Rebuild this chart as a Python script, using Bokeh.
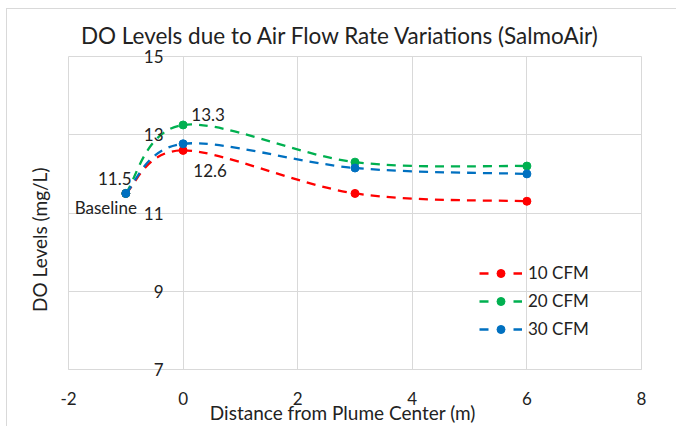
from bokeh.plotting import figure
from bokeh.models import (ColumnDataSource, FixedTicker, LabelSet, Legend,
                          LegendItem, Range1d, InlineStyleSheet)
from bokeh.core.properties import value
from bokeh.embed import file_html
from bokeh.resources import INLINE

# ---- data ----
x_vals = [-1, 0, 3, 6]
series_names = ["10 CFM", "20 CFM", "30 CFM"]
cfm10 = [11.5, 12.6, 11.5, 11.3]
cfm20 = [11.5, 13.25, 12.3, 12.2]
cfm30 = [11.5, 12.77, 12.15, 12.0]
colors = ["#FF0000", "#00B050", "#0070C0"]
x_ticks = [-2, 0, 2, 4, 6, 8]
y_ticks = [7, 9, 11, 13, 15]

# data labels: (x, y, text, x_offset, y_offset)
dl_x = [0, 0, -1, -1]
dl_y = [cfm20[1], cfm10[1], cfm10[0], cfm10[0]]
dl_text = ["13.3", "12.6", "11.5", "Baseline"]
dl_xoff = [25, 27, -11, -20]
dl_yoff = [10, -20, 15, -14]

FONT = "Lato"
TXT = "#222222"
GRID = "#d9d9d9"
NB = "\u00a0"

p = figure(width=676, height=426, output_backend="svg", toolbar_location=None,
           x_range=Range1d(-2, 8), y_range=Range1d(7, 15),
           min_border_left=68, min_border_right=35, min_border_top=56,
           min_border_bottom=56,
           title="DO Levels due to Air Flow Rate Variations (SalmoAir)" + NB * 5)
p.background_fill_color = "white"
p.border_fill_color = "white"
p.outline_line_color = GRID

p.title.align = "center"
p.title.text_font = FONT
p.title.text_font_size = "22.5px"
p.title.text_font_style = "normal"
p.title.text_color = TXT
p.title.standoff = 15

p.xaxis.ticker = FixedTicker(ticks=x_ticks)
p.xgrid.ticker = FixedTicker(ticks=x_ticks)
p.ygrid.ticker = FixedTicker(ticks=y_ticks)
p.xgrid.grid_line_color = GRID
p.ygrid.grid_line_color = GRID

xa = p.xaxis[0]
xa.axis_line_color = GRID
xa.major_tick_line_color = None
xa.minor_tick_line_color = None
xa.major_label_text_font = FONT
xa.major_label_text_font_size = "17px"
xa.major_label_text_color = TXT
xa.major_label_standoff = 16
xa.major_label_overrides = {-2: "-2"}
xa.axis_label = "Distance from Plume Center (m)" + NB * 5
xa.axis_label_text_font = FONT
xa.axis_label_text_font_size = "19px"
xa.axis_label_text_font_style = "normal"
xa.axis_label_text_color = TXT
xa.axis_label_standoff = -7

# y axis: tick labels pulled in next to x = 0, title at the far left
ya = p.yaxis[0]
ya.ticker = FixedTicker(ticks=y_ticks)
ya.axis_line_color = None
ya.major_tick_line_color = None
ya.minor_tick_line_color = None
ya.major_tick_in = 0
ya.major_tick_out = 0
ya.major_label_standoff = -95
ya.major_label_text_font = FONT
ya.major_label_text_font_size = "17px"
ya.major_label_text_color = TXT
ya.axis_label = "DO Levels (mg/L)" + NB * 11
ya.axis_label_text_font = FONT
ya.axis_label_text_font_size = "19px"
ya.axis_label_text_font_style = "normal"
ya.axis_label_text_color = TXT
ya.axis_label_standoff = 90


def bezier_parts(xs, ys):
    n = len(xs)
    out = dict(x0=[], y0=[], x1=[], y1=[], cx0=[], cy0=[], cx1=[], cy1=[])
    for i in range(n - 1):
        i0 = max(i - 1, 0)
        i3 = min(i + 2, n - 1)
        out["x0"].append(xs[i]); out["y0"].append(ys[i])
        out["x1"].append(xs[i + 1]); out["y1"].append(ys[i + 1])
        out["cx0"].append(xs[i] + (xs[i + 1] - xs[i0]) / 6)
        out["cy0"].append(ys[i] + (ys[i + 1] - ys[i0]) / 6)
        out["cx1"].append(xs[i + 1] - (xs[i3] - xs[i]) / 6)
        out["cy1"].append(ys[i + 1] - (ys[i3] - ys[i]) / 6)
    return out


nan = float("nan")
items = []
for name, ys, col in zip(series_names, [cfm10, cfm20, cfm30], colors):
    src = ColumnDataSource(bezier_parts(x_vals, ys))
    p.bezier(x0="x0", y0="y0", x1="x1", y1="y1", cx0="cx0", cy0="cy0",
             cx1="cx1", cy1="cy1", source=src, line_color=col, line_width=2.3,
             line_dash="9 7")
    p.scatter(x_vals, ys, size=8, color=col)
    # legend-only renderers (no visible data)
    lg_line = p.line([nan, nan], [nan, nan], line_color=col, line_width=2.3,
                     line_dash="9 25")
    lg_dot = p.scatter([nan], [nan], size=8, color=col)
    items.append(LegendItem(label=name, renderers=[lg_line, lg_dot]))

legend = Legend(items=items, location=(411, 30), padding=0, margin=0,
                border_line_color=None, background_fill_alpha=0,
                glyph_width=43, glyph_height=20, label_height=20,
                spacing=7, label_standoff=6,
                label_text_font=FONT, label_text_font_size="17px",
                label_text_color=TXT)
p.add_layout(legend, "center")

# data labels
dsrc = ColumnDataSource(dict(x=dl_x, y=dl_y, t=dl_text, xo=dl_xoff, yo=dl_yoff))
p.add_layout(LabelSet(x="x", y="y", text="t", source=dsrc, x_offset="xo",
                      y_offset="yo", text_align="center", text_baseline="middle",
                      text_font=value(FONT), text_font_size=value("17px"),
                      text_color=TXT))

# light chart-area border like the original
p.stylesheets = [InlineStyleSheet(css=""":host::after { content: ""; position: absolute;
 left: 6px; top: 8px; right: -20px; bottom: -20px; border: 1px solid #d9d9d9;
 pointer-events: none; }""")]

open("out.html", "w").write(file_html(p, INLINE))
